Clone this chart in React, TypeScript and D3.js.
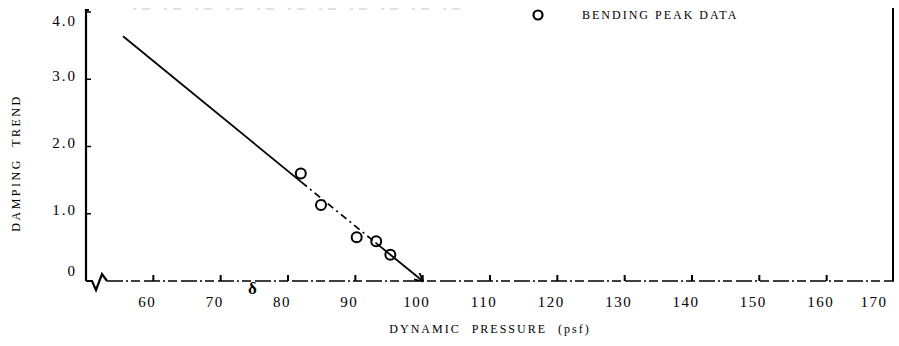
import React, { useEffect, useRef } from 'react';
import * as d3 from 'd3';

// Bending peak data (dynamic pressure psf, damping trend)
const peakPressure = [81.9, 84.9, 90.2, 93.1, 95.2];
const peakDamping = [1.6, 1.13, 0.65, 0.59, 0.39];

// Fairing line through the data, extrapolated to zero damping
const trendPressure = [55.5, 82, 93, 100];
const trendDamping = [3.64, 1.47, 0.57, 0];

const xTicks = [60, 70, 80, 90, 100, 110, 120, 130, 140, 150, 160, 170];
const yTicks = [0, 1, 2, 3, 4];
const yTickLabels = ['0', '1.0', '2.0', '3.0', '4.0'];

// lone point below the axis
const deltaPoint = [75];

const App = () => {
  const svgRef = useRef<SVGSVGElement | null>(null);

  useEffect(() => {
    if (!svgRef.current) return;
    const svg = d3.select(svgRef.current);
    svg.selectAll('*').remove();

    const x = d3.scaleLinear().domain([50, 170]).range([86, 894]);
    const y = d3.scaleLinear().domain([0, 4]).range([281, 12]);
    const font = 'Liberation Serif, DejaVu Serif, serif';

    svg.append('defs')
      .append('marker')
      .attr('id', 'arrow')
      .attr('viewBox', '0 0 10 10')
      .attr('refX', 9)
      .attr('refY', 5)
      .attr('markerWidth', 9)
      .attr('markerHeight', 9)
      .attr('markerUnits', 'userSpaceOnUse')
      .attr('orient', 'auto')
      .append('path')
      .attr('d', 'M0,0 L10,5 L0,10')
      .attr('fill', 'none')
      .attr('stroke', '#000')
      .attr('stroke-width', 2);

    // faint scan specks along the top edge
    svg.append('line')
      .attr('x1', x(57)).attr('x2', x(107))
      .attr('y1', 9).attr('y2', 9)
      .attr('stroke', '#d8d8d8')
      .attr('stroke-width', 1.5)
      .attr('stroke-dasharray', '3,6,8,14');

    // left axis
    const x0 = x(50);
    const yb = y(0);
    svg.append('path')
      .attr('d', `M${x0 + 3},${y(4.03)} L${x0},${y(4.03)} L${x0},${yb}`)
      .attr('fill', 'none')
      .attr('stroke', '#000')
      .attr('stroke-width', 2.2);

    // y ticks
    svg.selectAll('.ytick')
      .data(yTicks.filter(d => d > 0))
      .enter().append('line')
      .attr('x1', x0).attr('x2', x0 + 5)
      .attr('y1', d => y(d)).attr('y2', d => y(d))
      .attr('stroke', '#000')
      .attr('stroke-width', 1.5);

    svg.selectAll('.ylabel')
      .data(yTicks)
      .enter().append('text')
      .attr('x', x0 - 9)
      .attr('y', d => y(d) + (d === 0 ? -10 : d === 4 ? 9 : -4))
      .attr('dy', '0.35em')
      .attr('text-anchor', 'end')
      .style('font-family', font)
      .style('font-size', '15px')
      .style('letter-spacing', '2px')
      .text((d, i) => yTickLabels[i]);

    // axis break then the broken baseline
    svg.append('path')
      .attr('d', `M${x0},${yb} L${x0 + 6},${yb} L${x0 + 10},${yb + 9} L${x0 + 16},${yb - 7} L${x0 + 21},${yb}`)
      .attr('fill', 'none')
      .attr('stroke', '#000')
      .attr('stroke-width', 2.2)
      .attr('stroke-linejoin', 'miter');

    svg.append('line')
      .attr('x1', x0 + 21).attr('x2', x(170))
      .attr('y1', yb).attr('y2', yb)
      .attr('stroke', '#000')
      .attr('stroke-width', 1.5)
      .attr('stroke-dasharray', '16,3,2,3,9,4');

    // right border
    svg.append('line')
      .attr('x1', x(170) - 1).attr('x2', x(170) - 1)
      .attr('y1', 8).attr('y2', yb)
      .attr('stroke', '#000')
      .attr('stroke-width', 2);

    // x ticks
    svg.selectAll('.xtick')
      .data(xTicks.filter(d => d < 170))
      .enter().append('line')
      .attr('x1', d => x(d)).attr('x2', d => x(d))
      .attr('y1', yb).attr('y2', yb - 6)
      .attr('stroke', '#000')
      .attr('stroke-width', 2);

    svg.selectAll('.xlabel')
      .data(xTicks)
      .enter().append('text')
      .attr('x', d => x(d) - (d === 170 ? 20 : 6))
      .attr('y', yb + 21)
      .attr('dy', '0.35em')
      .attr('text-anchor', 'middle')
      .style('font-family', font)
      .style('font-size', '15px')
      .style('letter-spacing', '1.5px')
      .text(d => d);

    // trend line: solid, dash-dot through the data, solid to zero
    const segs = [
      { a: 0, b: 1, dash: null },
      { a: 1, b: 2, dash: '7,4,2,4' },
      { a: 2, b: 3, dash: null },
    ];
    segs.forEach(s => {
      svg.append('line')
        .attr('x1', x(trendPressure[s.a])).attr('y1', y(trendDamping[s.a]))
        .attr('x2', x(trendPressure[s.b])).attr('y2', y(trendDamping[s.b]))
        .attr('stroke', '#000')
        .attr('stroke-width', 1.8)
        .attr('stroke-dasharray', s.dash)
        .attr('marker-end', s.b === 3 ? 'url(#arrow)' : null);
    });

    // data circles
    svg.selectAll('.pt')
      .data(peakPressure)
      .enter().append('circle')
      .attr('cx', d => x(d))
      .attr('cy', (d, i) => y(peakDamping[i]))
      .attr('r', 5)
      .attr('fill', 'none')
      .attr('stroke', '#000')
      .attr('stroke-width', 2);

    svg.selectAll('.delta')
      .data(deltaPoint)
      .enter().append('text')
      .attr('x', d => x(d) - 2)
      .attr('y', yb + 7)
      .attr('dy', '0.35em')
      .attr('text-anchor', 'middle')
      .style('font-family', font)
      .style('font-size', '17px')
      .style('font-weight', 'bold')
      .text('δ');

    // legend
    svg.append('circle')
      .attr('cx', 538).attr('cy', 15)
      .attr('r', 4.5)
      .attr('fill', 'none')
      .attr('stroke', '#000')
      .attr('stroke-width', 2.2);
    svg.append('text')
      .attr('x', 582).attr('y', 15)
      .attr('dy', '0.35em')
      .style('font-family', font)
      .style('font-size', '12px')
      .style('letter-spacing', '2px')
      .text('BENDING PEAK DATA');

    // axis titles
    svg.append('text')
      .attr('x', 490).attr('y', 329)
      .attr('dy', '0.35em')
      .attr('text-anchor', 'middle')
      .style('font-family', font)
      .style('font-size', '12px')
      .style('letter-spacing', '2px')
      .style('word-spacing', '6px')
      .text('DYNAMIC PRESSURE (psf)');

    svg.append('text')
      .attr('transform', 'translate(16,163) rotate(-90)')
      .attr('dy', '0.35em')
      .attr('text-anchor', 'middle')
      .style('font-family', font)
      .style('font-size', '12px')
      .style('letter-spacing', '2.5px')
      .style('word-spacing', '6px')
      .text('DAMPING TREND');
  }, []);

  return (
    <svg
      ref={svgRef}
      width={899}
      height={346}
      style={{ position: 'absolute', left: 0, top: 0, background: '#fff' }}
    />
  );
};

export default App;
